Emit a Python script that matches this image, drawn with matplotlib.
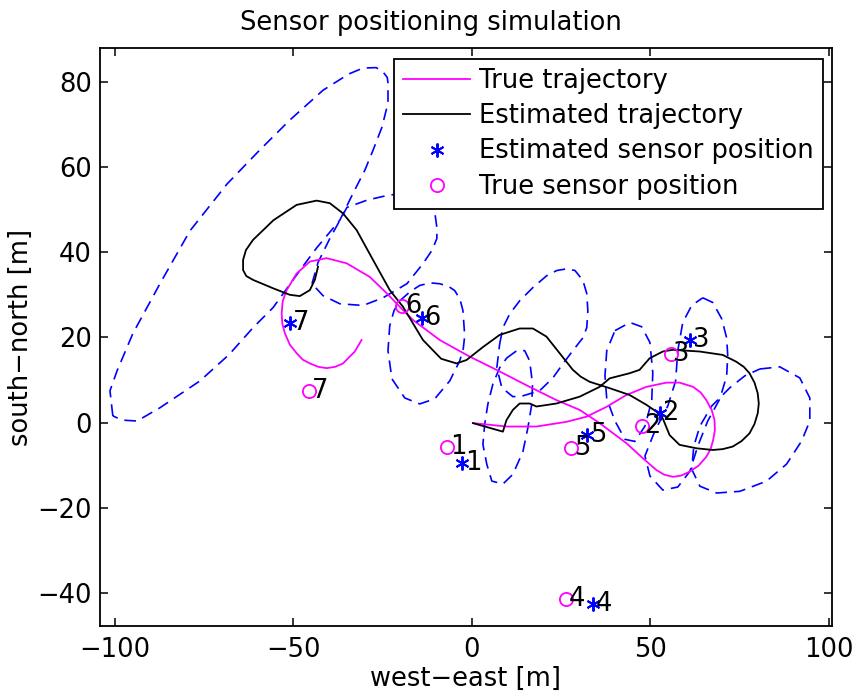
import matplotlib
matplotlib.use('Agg')
import matplotlib.pyplot as plt
import numpy as np

# ---------------- data ----------------
true_x = [0.4, 9.7, 18.1, 26.5, 32.1, 37.7, 43.3, 48.9, 54.5, 58.2, 62.0, 64.1, 65.7, 67.2, 68.0,
          68.1, 67.6, 66.9, 65.7, 63.5, 61.0, 58.7, 56.4, 53.9, 51.7, 48.0, 43.3, 39.6, 35.8,
          30.2, 23.7, 16.2, 6.9, -0.6, -9.0, -16.5, -19.5, -23.9, -28.6, -35.1, -40.7, -45.4,
          -49.1, -51.9, -53.0, -53.3, -53.1, -52.4, -51.0, -49.1, -47.4, -45.4, -43.0, -40.7,
          -38.3, -36.1, -32.8, -30.9]
true_y = [-0.1, -0.9, -0.9, 0.2, 1.4, 3.7, 6.5, 8.4, 9.4, 9.4, 8.4, 7.1, 5.3, 3.0, 0.6,
          -1.8, -4.1, -6.2, -8.0, -10.1, -11.5, -12.4, -12.7, -12.2, -11.1, -8.4, -4.8, -2.5, -0.1,
          3.0, 5.3, 8.4, 12.4, 15.5, 19.4, 24.1, 26.6, 30.4, 34.2, 37.4, 38.6, 37.8,
          35.0, 31.1, 28.5, 25.7, 23.2, 21.0, 18.3, 16.3, 14.8, 13.9, 13.1, 12.8,
          13.1, 13.9, 16.7, 19.4]

est_x = [0.3, 8.7, 9.7, 11.5, 13.4, 16.2, 18.1, 23.7, 30.2, 35.8, 38.6, 44.2, 47.0, 49.8,
         53.5, 56.3, 63.8, 70.3, 74.1, 76.2, 77.8, 79.2, 80.1, 80.4, 80.1, 79.2, 77.8, 75.6,
         73.1, 70.3, 67.5, 62.9, 58.2, 55.4, 53.5, 51.7, 48.9, 44.2, 38.6, 33.0, 30.5, 28.3,
         24.6, 20.9, 17.1, 13.4, 7.8, 3.2, -1.5, -4.3, -8.6, -13.7, -19.3, -23.0, -27.7,
         -32.3, -36.1, -39.8, -43.5, -49.1, -55.6, -61.3, -63.3, -64.1, -64.1, -63.2, -61.3,
         -55.6, -51.0, -48.2, -45.4, -44.0, -43.1]
est_y = [-0.1, -2.1, 0.6, 3.0, 4.5, 4.5, 3.8, 4.5, 6.1, 8.4, 10.4, 11.6, 12.4, 15.1,
         16.7, 17.1, 16.7, 15.9, 14.3, 13.1, 11.6, 9.4, 6.9, 4.5, 2.2, -0.3, -2.5, -4.3,
         -5.6, -6.2, -6.4, -6.0, -5.2, -2.9, 1.0, 2.6, 4.2, 6.5, 8.1, 9.6, 10.8, 12.4,
         16.3, 20.2, 22.1, 22.1, 20.6, 17.8, 14.7, 13.9, 15.0, 19.4, 27.2, 31.1, 38.2,
         45.2, 49.1, 51.5, 52.1, 51.1, 47.5, 42.9, 40.5, 38.2, 35.8, 34.4, 33.5,
         31.5, 30.0, 29.7, 31.1, 33.5, 36.6]

sensor_ids = ['1', '2', '3', '4', '5', '6', '7']
sensor_true_x = [-7.0, 47.6, 55.7, 26.3, 27.7, -19.6, -45.7]
sensor_true_y = [-5.7, -0.8, 16.1, -41.4, -5.9, 27.4, 7.4]
sensor_est_x = [-2.8, 52.6, 61.2, 33.9, 32.2, -14.0, -51.0]
sensor_est_y = [-9.5, 2.3, 19.4, -42.5, -2.9, 24.6, 23.4]

# uncertainty contours (closed dashed curves)
contour_a_x = [-100.6, -101.4, -99.4, -95.0, -87.4, -79.0, -68.6, -59.4, -51.0, -41.7, -34.5,
               -30.5, -26.8, -24.9, -23.7, -23.5, -23.5, -25.2, -27.7, -30.0, -33.3, -37.0,
               -43.4, -47.6, -55.7, -61.3, -68.0, -76.2, -87.4, -93.8, -98.0]
contour_a_y = [1.6, 7.5, 12.2, 20.9, 32.6, 45.0, 56.0, 64.0, 71.0, 78.0, 81.8,
               83.2, 83.3, 82.3, 81.0, 79.7, 75.0, 69.3, 63.9, 59.2, 53.8, 47.5,
               41.1, 36.4, 27.0, 22.3, 16.0, 9.8, 3.5, 0.4, 0.6]
contour_b_x = [-44.8, -43.1, -39.8, -35.0, -29.4, -23.8, -18.0, -13.0, -10.5, -9.8, -9.8,
               -11.2, -13.7, -18.2, -24.9, -30.5, -37.0, -41.7]
contour_b_y = [32.6, 37.6, 43.2, 50.5, 52.2, 53.3, 54.0, 53.0, 50.0, 45.8, 43.2,
               40.4, 37.3, 32.6, 29.3, 27.5, 27.9, 29.8]
contour_c_x = [-20.2, -17.2, -14.6, -11.6, -9.0, -6.6, -4.8, -3.3, -2.5, -2.0, -2.4, -3.4,
               -6.2, -10.4, -14.6, -18.8, -22.4, -23.5, -23.0, -21.8]
contour_c_y = [28.6, 30.8, 32.2, 32.8, 32.6, 32.0, 31.0, 28.9, 26.3, 20.4, 17.4, 14.5,
               9.8, 5.6, 4.4, 5.8, 10.3, 16.9, 22.8, 26.3]
contour_d_x = [9.8, 12.6, 14.8, 16.2, 17.0, 16.8, 15.7, 14.3, 11.5, 8.7, 5.6, 4.2, 3.1,
               3.6, 4.5, 5.9, 7.8]
contour_d_y = [15.2, 16.9, 16.9, 14.5, 9.1, 4.4, -1.2, -6.8, -12.1, -14.4, -13.7, -9.8, -5.1,
               -0.3, 4.4, 9.1, 12.9]
contour_e_x = [7.8, 8.7, 10.6, 13.4, 17.1, 21.0, 23.8, 26.6, 28.9, 31.1, 32.2, 32.5, 32.2,
               31.1, 28.3, 25.5, 22.7, 19.0, 14.3, 11.5, 8.4, 7.0]
contour_e_y = [18.5, 22.3, 25.5, 28.6, 31.7, 34.5, 35.7, 36.1, 35.7, 33.4, 30.3, 26.3, 22.3,
               19.9, 16.9, 13.8, 10.5, 7.5, 6.3, 6.1, 8.2, 12.9]
contour_f_x = [40.1, 44.3, 47.6, 49.9, 50.7, 50.4, 48.5, 45.7, 42.9, 40.1, 37.8, 37.3, 37.8]
contour_f_y = [21.6, 23.5, 22.5, 18.8, 11.7, 5.1, -0.8, -4.4, -3.9, 0.4, 5.6, 11.0, 16.9]
contour_g_x = [64.7, 67.5, 70.0, 71.4, 71.7, 71.4, 69.5, 66.1, 63.3, 61.1, 57.7, 53.5, 49.9,
               48.5, 51.3, 54.9, 57.1, 57.7, 59.1, 61.6]
contour_g_y = [29.3, 28.2, 24.4, 19.9, 15.7, 11.0, 5.6, 0.4, -5.5, -11.4, -15.1, -15.8, -12.5,
               -7.8, -1.9, 3.9, 9.8, 16.9, 23.5, 27.5]
contour_h_x = [80.7, 86.3, 91.9, 94.7, 94.7, 92.4, 88.2, 82.6, 75.1, 68.6, 63.9, 61.6, 62.2,
               63.9, 67.2, 72.3, 76.5]
contour_h_y = [12.6, 13.1, 10.5, 5.8, 0.4, -4.3, -9.7, -13.7, -16.1, -16.5, -14.9, -10.9, -5.5,
               -0.8, 3.9, 8.2, 11.0]

contours = [(contour_a_x, contour_a_y), (contour_b_x, contour_b_y), (contour_c_x, contour_c_y),
            (contour_d_x, contour_d_y), (contour_e_x, contour_e_y), (contour_f_x, contour_f_y),
            (contour_g_x, contour_g_y), (contour_h_x, contour_h_y)]

# ---------------- figure ----------------
FS = 18.5
plt.rcParams['font.family'] = ['DejaVu Sans']
plt.rcParams['font.size'] = FS
plt.rcParams['axes.unicode_minus'] = True

fig = plt.figure(figsize=(8.56, 7.0), dpi=100)
ax = fig.add_axes([0.1168, 0.1057, 0.8551, 0.8257])

for cx, cy in contours:
    ax.plot(list(cx) + [cx[0]], list(cy) + [cy[0]], color='#0000ff', lw=1.2,
            ls=(0, (7, 4.2)), zorder=1)

ax.plot(true_x, true_y, color='#ff00ff', lw=1.3, label='True trajectory', zorder=2)
ax.plot(est_x, est_y, color='black', lw=1.3, label='Estimated trajectory', zorder=2)
ax.plot(sensor_est_x, sensor_est_y, ls='none', marker=(6, 2, 0), ms=10, mec='#0000ff',
        mfc='#0000ff', mew=1.4, label='Estimated sensor position', zorder=3)
ax.plot(sensor_true_x, sensor_true_y, ls='none', marker='o', ms=9.5, mfc='none',
        mec='#ff00ff', mew=1.3, label='True sensor position', zorder=3)

for sid, x, y in zip(sensor_ids, sensor_true_x, sensor_true_y):
    ax.text(x + 0.8, y, sid, ha='left', va='center', color='black', zorder=4)
for sid, x, y in zip(sensor_ids, sensor_est_x, sensor_est_y):
    ax.text(x + 0.8, y, sid, ha='left', va='center', color='black', zorder=4)

ax.set_xlim(-104.2, 100.9)
ax.set_ylim(-47.7, 87.9)
ax.set_xticks([-100, -50, 0, 50, 100])
ax.set_yticks([-40, -20, 0, 20, 40, 60, 80])
ax.tick_params(direction='in', length=6, width=1.1, top=True, right=True)
ax.tick_params(axis='x', pad=8)
ax.tick_params(axis='y', pad=6)
for s in ax.spines.values():
    s.set_linewidth(1.3)

ax.set_xlabel('west\u2212east [m]', labelpad=2)
ax.set_ylabel('south\u2212north [m]', labelpad=2)
ax.set_title('Sensor positioning simulation', pad=13, fontsize=FS, x=0.452)

leg = ax.legend(loc='upper right', bbox_to_anchor=(823 / 856, 1 - 59 / 700),
                bbox_transform=fig.transFigure, borderaxespad=0, fancybox=False,
                framealpha=1, edgecolor='black', handlelength=2.6, handletextpad=0.35,
                borderpad=0.35, labelspacing=0.36, fontsize=FS)
leg.get_frame().set_linewidth(1.3)
leg.set_zorder(10)

fig.savefig('out.png', dpi=100)
